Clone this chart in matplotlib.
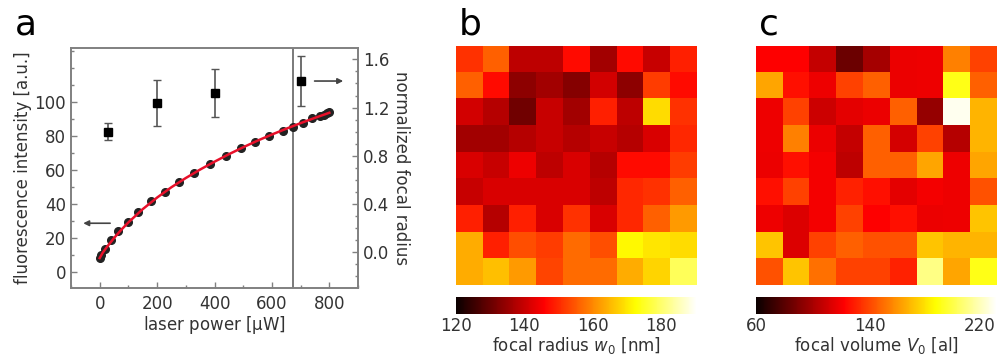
import numpy as np
import matplotlib
matplotlib.use('Agg')
import matplotlib.pyplot as plt
from matplotlib.transforms import ScaledTranslation

# panel a: fluorescence vs laser power (left axis)
power = [0, 5, 17, 38, 64, 99, 134, 178, 227, 277, 329, 384, 439, 492, 541,
         591, 637, 675, 710, 739, 768, 780, 792, 800]
intensity = [8.2, 9.6, 13.3, 18.4, 23.8, 29.4, 35.3, 41.6, 46.9, 52.8, 58.2,
             63.4, 68.1, 72.6, 76.5, 79.8, 82.8, 85.1, 87.6, 90.2, 91.6, 92.3,
             93.2, 94.0]
# red fit line
fit_power = [0, 10, 25, 50, 75, 100, 150, 200, 250, 300, 350, 400, 450, 500,
             550, 600, 650, 700, 750, 800]
fit_intensity = [8.0, 11.0, 14.5, 19.8, 24.6, 29.0, 36.8, 43.6, 49.7, 55.1,
                 60.1, 64.7, 69.1, 73.2, 77.1, 80.7, 84.1, 87.4, 90.5, 93.5]
# normalized focal radius (right axis)
radius_power = [30, 200, 400, 700]
radius = [1.00, 1.235, 1.32, 1.42]
radius_err = [0.07, 0.19, 0.20, 0.21]

# panel b: focal radius map [nm]
focal_radius = [
    [151, 156, 139, 139, 147, 136, 147, 140, 149],
    [156, 147, 134, 136, 133, 141, 134, 152, 147],
    [141, 138, 131, 140, 136, 149, 139, 169, 151],
    [136, 136, 138, 140, 138, 140, 138, 142, 150],
    [142, 140, 144, 139, 142, 138, 147, 147, 152],
    [140, 142, 142, 142, 142, 139, 150, 151, 156],
    [149, 138, 149, 142, 151, 142, 150, 156, 162],
    [164, 149, 154, 152, 157, 154, 172, 170, 169],
    [164, 166, 162, 153, 157, 157, 164, 168, 179],
]
radius_ticks = [120, 140, 160, 180]

# panel c: focal volume map [al]
focal_volume = [
    [122, 122, 107, 85, 99, 117, 118, 154, 138],
    [163, 126, 118, 138, 146, 117, 118, 190, 146],
    [118, 138, 109, 115, 117, 146, 95, 226, 167],
    [118, 154, 117, 107, 146, 111, 138, 103, 167],
    [117, 126, 119, 105, 146, 146, 163, 118, 163],
    [126, 138, 119, 130, 126, 115, 119, 118, 142],
    [118, 113, 119, 138, 122, 126, 117, 118, 171],
    [171, 113, 138, 146, 142, 142, 171, 167, 167],
    [142, 171, 150, 138, 138, 130, 208, 163, 190],
]
volume_ticks = [60, 140, 220]

txt = '#333333'
spine = '#808080'
fs = 12

plt.rcParams['font.family'] = ['DejaVu Sans']
plt.rcParams['mathtext.fontset'] = 'dejavusans'

fig = plt.figure(figsize=(9.97, 3.6), dpi=100)

# ---- panel a
ax = fig.add_axes([0.0712, 0.2, 0.2879, 0.6667])
ax.plot(power, intensity, 'o', color='#222222', ms=5.5, zorder=3)
ax.plot(fit_power, fit_intensity, '-', color='#e8102a', lw=1.8, zorder=4)
ax.axvline(673, color='#707070', lw=1.3, zorder=2)
ax.set_xlim(-100, 900)
ax.set_ylim(-9.6, 131.6)
ax.set_xticks([0, 200, 400, 600, 800])
ax.set_xticks(range(-100, 901, 100), minor=True)
ax.set_yticks([0, 20, 40, 60, 80, 100])
ax.set_yticks(range(-0, 131, 10), minor=True)
ax.set_xlabel(r'laser power [$\mathrm{\mu}$W]', fontsize=fs, color=txt, labelpad=1)
ax.set_ylabel('fluorescence intensity [a.u.]', fontsize=fs, color=txt, labelpad=2)
ax.annotate('', xy=(-67, 28.5), xytext=(46, 28.5),
            arrowprops=dict(arrowstyle='-|>', color='#444444', lw=1.2,
                            mutation_scale=8))

ax2 = ax.twinx()
ax2.errorbar(radius_power, radius, yerr=radius_err, fmt='s', color='black',
             ms=5.5, ecolor='#555555', elinewidth=1.2, capsize=3, capthick=1)
ax2.set_ylim(-0.296, 1.694)
ax2.set_yticks([0.0, 0.4, 0.8, 1.2, 1.6])
ax2.set_yticks(np.arange(-0.2, 1.65, 0.1), minor=True)
ax2.yaxis.set_major_formatter(matplotlib.ticker.FormatStrFormatter('%.1f'))
ax2.set_ylabel('normalized focal radius', fontsize=fs, color=txt,
               rotation=270, labelpad=15)
ax2.annotate('', xy=(858, 1.42), xytext=(739, 1.42),
             arrowprops=dict(arrowstyle='-|>', color='#444444', lw=1.2,
                             mutation_scale=8), annotation_clip=False)

for a in (ax, ax2):
    for s in a.spines.values():
        s.set_color(spine)
        s.set_linewidth(1.2)
    a.tick_params(which='both', direction='in', colors=spine, labelcolor=txt,
                  labelsize=fs, width=1)
    a.tick_params(which='major', length=4)
    a.tick_params(which='minor', length=2.5)
ax.tick_params(axis='y', which='both', right=False)
ax.tick_params(axis='x', which='both', top=False, pad=5)
fig.text(0.015, 0.905, 'a', fontsize=26, color='black')

# ---- panels b and c
panels = [
    ('b', focal_radius, 120, 190.6, radius_ticks, r'focal radius $w_0$ [nm]', 0.4574),
    ('c', focal_volume, 60, 229, volume_ticks, r'focal volume $V_0$ [al]', 0.7583),
]
for letter, data, vmin, vmax, ticks, label, left in panels:
    axh = fig.add_axes([left, 0.2083, 0.2417, 0.6647])
    im = axh.imshow(np.array(data), cmap='hot', vmin=vmin, vmax=vmax,
                    interpolation='nearest', aspect='auto')
    axh.axis('off')
    cax = fig.add_axes([left, 0.1278, 0.2417, 0.0463])
    cb = fig.colorbar(im, cax=cax, orientation='horizontal')
    cb.outline.set_visible(False)
    cb.set_ticks(ticks)
    cb.ax.tick_params(length=0, labelsize=fs, labelcolor=txt, pad=2)
    cb.set_label(label, fontsize=fs, color=txt, labelpad=0)
    fig.text(left + 0.003, 0.905, letter, fontsize=26, color='black')

# last colorbar label sits at the figure edge, nudge it inwards a little
last = cb.ax.get_xticklabels()[-1]
last.set_transform(last.get_transform() + ScaledTranslation(-5 / 100, 0, fig.dpi_scale_trans))

fig.savefig('out.png', dpi=100)
